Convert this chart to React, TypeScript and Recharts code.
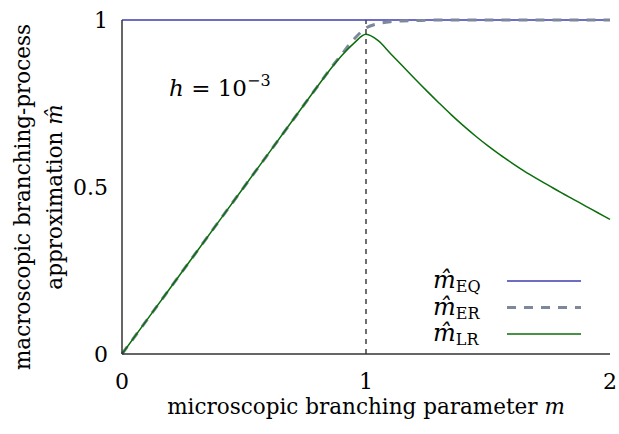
import React from "react";
import { LineChart, Line, XAxis, YAxis, ReferenceLine } from "recharts";

const mValues = [0, 0.2, 0.4, 0.6, 0.8, 0.85, 0.9, 0.95, 1.0, 1.05, 1.1, 1.15, 1.2, 1.25, 1.3, 1.35, 1.4, 1.45, 1.5, 1.55, 1.6, 1.65, 1.7, 1.75, 1.8, 1.85, 1.9, 1.95, 2.0];
const eqValues = [1, 1, 1, 1, 1, 1, 1, 1, 1, 1, 1, 1, 1, 1, 1, 1, 1, 1, 1, 1, 1, 1, 1, 1, 1, 1, 1, 1, 1];
const erValues = [0, 0.2, 0.4, 0.6, 0.8, 0.85, 0.897, 0.942, 0.976, 0.989, 0.995, 0.997, 0.998, 0.999, 1, 1, 1, 1, 1, 1, 1, 1, 1, 1, 1, 1, 1, 1, 1];
const lrValues = [0, 0.2, 0.4, 0.6, 0.8, 0.849, 0.893, 0.93, 0.957, 0.938, 0.9, 0.862, 0.824, 0.787, 0.751, 0.716, 0.683, 0.652, 0.623, 0.596, 0.571, 0.547, 0.525, 0.504, 0.483, 0.463, 0.443, 0.423, 0.403];
const xTicks = [0, 1, 2];
const yTicks = [0, 0.5, 1];
const yTickLabels = ["0", "0.5", "1"];

const data = mValues.map((m, i) => ({ m, eq: eqValues[i], er: erValues[i], lr: lrValues[i] }));

const FONT = "'DejaVu Serif', serif";
const EQ_COLOR = "#3d3db3";
const ER_COLOR = "#7d889c";
const LR_COLOR = "#0a6e0a";

const legendItems = [
  { sub: "EQ", color: EQ_COLOR, width: 1.5, dash: undefined as string | undefined },
  { sub: "ER", color: ER_COLOR, width: 3, dash: "9 8" },
  { sub: "LR", color: LR_COLOR, width: 1.5, dash: undefined as string | undefined },
];

const YLabel = () => (
  <g>
    <text x={0} y={0} transform="translate(30,197) rotate(-90)" textAnchor="middle" fontFamily={FONT} fontSize={21.5} fill="#000">
      macroscopic branching-process
    </text>
    <text x={0} y={0} transform="translate(62,197) rotate(-90)" textAnchor="middle" fontFamily={FONT} fontSize={21.5} fill="#000">
      approximation <tspan fontStyle="italic">m̂</tspan>
    </text>
  </g>
);

const XLabel = (props: any) => {
  const vb = props.viewBox || { x: 122, y: 354, width: 488, height: 80 };
  const cx = vb.x + vb.width / 2;
  return (
    <text x={cx} y={414} textAnchor="middle" fontFamily={FONT} fontSize={21.5} fill="#000">
      microscopic branching parameter <tspan fontStyle="italic">m</tspan>
    </text>
  );
};

export default function App() {
  return (
    <div style={{ position: "fixed", left: 0, top: 0, width: 619, height: 434, background: "#fff" }}>
      <LineChart width={619} height={434} data={data} margin={{ top: 20, right: 9, bottom: 0, left: 0 }} style={{ fontFamily: FONT }}>
        <XAxis
          dataKey="m"
          type="number"
          domain={[0, 2]}
          ticks={xTicks}
          tickFormatter={(v: number) => String(v)}
          height={80}
          tickSize={0}
          tickMargin={19}
          stroke="#333"
          strokeWidth={1.5}
          tick={{ fontSize: 22, fill: "#000", fontFamily: FONT }}
          label={{ content: (p: any) => <XLabel {...p} /> }}
        />
        <YAxis
          type="number"
          domain={[0, 1]}
          ticks={yTicks}
          tickFormatter={(v: number) => yTickLabels[yTicks.indexOf(v)]}
          width={122}
          tickSize={0}
          tickMargin={14}
          stroke="#333"
          strokeWidth={1.5}
          tick={{ fontSize: 22, fill: "#000", fontFamily: FONT }}
          label={{ content: () => <YLabel /> }}
        />
        <ReferenceLine x={1} stroke="#222" strokeDasharray="5 5" strokeWidth={1.3} />
        <Line type="linear" dataKey="eq" stroke={EQ_COLOR} strokeWidth={1.5} dot={false} isAnimationActive={false} />
        <Line type="monotone" dataKey="er" stroke={ER_COLOR} strokeWidth={3} strokeDasharray="9 8" dot={false} isAnimationActive={false} />
        <Line type="monotone" dataKey="lr" stroke={LR_COLOR} strokeWidth={1.5} dot={false} isAnimationActive={false} />
      </LineChart>
      <svg width={180} height={110} style={{ position: "absolute", left: 433, top: 250 }}>
        {legendItems.map((it, i) => {
          const y = 31 + i * 26.5;
          return (
            <g key={it.sub}>
              <text x={0} y={y + 7} fontFamily={FONT} fontSize={24} fill="#000">
                <tspan fontStyle="italic">m̂</tspan>
                <tspan fontSize={16} dy={4}>{it.sub}</tspan>
              </text>
              <line x1={74} x2={148} y1={y} y2={y} stroke={it.color} strokeWidth={it.width} strokeDasharray={it.dash} />
            </g>
          );
        })}
      </svg>
      <svg width={200} height={50} style={{ position: "absolute", left: 165, top: 65 }}>
        <text x={4} y={31} fontFamily={FONT} fontSize={23} fill="#000">
          <tspan fontStyle="italic">h</tspan> = 10<tspan fontSize={16} dy={-10}>−3</tspan>
        </text>
      </svg>
    </div>
  );
}
